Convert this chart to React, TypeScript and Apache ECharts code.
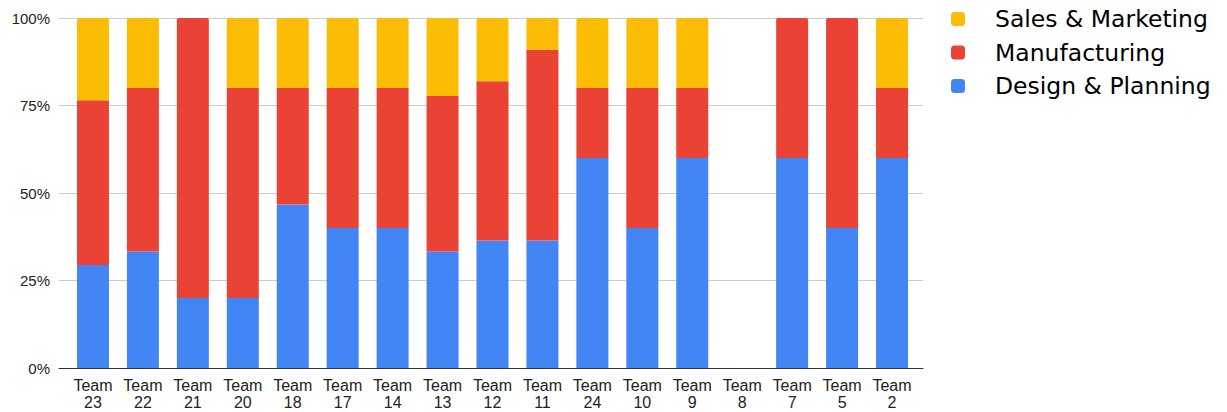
import React, { useEffect, useRef } from "react";
import * as echarts from "echarts";

const teams = ["Team\n23", "Team\n22", "Team\n21", "Team\n20", "Team\n18", "Team\n17", "Team\n14", "Team\n13", "Team\n12", "Team\n11", "Team\n24", "Team\n10", "Team\n9", "Team\n8", "Team\n7", "Team\n5", "Team\n2"];

// Share of each team's members per department, in percent
const designPlanning = [29.4, 33.3, 20, 20, 46.7, 40, 40, 33.3, 36.4, 36.4, 60, 40, 60, 0, 60, 40, 60];
const manufacturing = [47.1, 46.7, 80, 60, 33.3, 40, 40, 44.4, 45.5, 54.5, 20, 40, 20, 0, 40, 60, 20];
const salesMarketing = [23.5, 20, 0, 20, 20, 20, 20, 22.2, 18.2, 9.1, 20, 20, 20, 0, 0, 0, 20];

const yTicks = [0, 25, 50, 75, 100];

const FONT = "'Liberation Sans', Arial, sans-serif";

export default function App() {
  const ref = useRef<HTMLDivElement>(null);

  useEffect(() => {
    document.body.style.margin = "0";
    if (!ref.current) return;
    const chart = echarts.init(ref.current, undefined, { renderer: "svg" });

    // Round the top corners of whichever segment sits on top of each bar
    const mfgData = manufacturing.map((v, i) =>
      salesMarketing[i] === 0 && v > 0
        ? { value: v, itemStyle: { borderRadius: [2, 2, 0, 0] } }
        : v
    );

    const yMin = yTicks[0];
    const yMax = yTicks[yTicks.length - 1];

    chart.setOption({
      animation: false,
      textStyle: { fontFamily: FONT },
      grid: [
        // background grid: gridlines, y labels and the baseline, a little wider than the bars
        { left: 59, right: 304, top: 18, bottom: 44, containLabel: false, outerBoundsMode: "none" },
        // bar area
        { left: 68, right: 310, top: 18, bottom: 44, containLabel: false, outerBoundsMode: "none" },
      ],
      legend: {
        orient: "vertical",
        left: 951,
        top: 7,
        padding: 0,
        itemWidth: 14,
        itemHeight: 14,
        itemGap: 9.5,
        icon: "roundRect",
        data: ["Sales & Marketing", "Manufacturing", "Design & Planning"],
        textStyle: {
          fontSize: 23.5,
          lineHeight: 24,
          color: "#000",
          fontFamily: "'DejaVu Sans', sans-serif",
          padding: [0, 0, 0, 25],
        },
      },
      xAxis: [
        {
          gridIndex: 0,
          type: "value",
          min: 0,
          max: 1,
          axisLine: { show: true, onZero: false, lineStyle: { color: "#333", width: 1 } },
          axisLabel: { show: false },
          axisTick: { show: false },
          splitLine: { show: false },
        },
        {
          gridIndex: 1,
          type: "category",
          data: teams,
          axisTick: { show: false },
          axisLine: { show: false },
          axisLabel: { color: "#222", fontSize: 16, lineHeight: 17, margin: 9, interval: 0, fontFamily: FONT },
        },
      ],
      yAxis: [
        {
          gridIndex: 0,
          type: "value",
          min: yMin,
          max: yMax,
          interval: 25,
          axisLabel: { formatter: "{value}%", color: "#222", fontSize: 15, margin: 9, fontFamily: FONT },
          splitLine: { lineStyle: { color: "#cccccc" } },
          axisLine: { show: false },
          axisTick: { show: false },
        },
        {
          gridIndex: 1,
          type: "value",
          min: yMin,
          max: yMax,
          interval: 25,
          show: false,
          splitLine: { show: false },
        },
      ],
      series: [
        {
          name: "Design & Planning",
          type: "bar",
          stack: "team",
          xAxisIndex: 1,
          yAxisIndex: 1,
          barWidth: 32,
          data: designPlanning,
          itemStyle: { color: "#4285F4" },
        },
        {
          name: "Manufacturing",
          type: "bar",
          stack: "team",
          xAxisIndex: 1,
          yAxisIndex: 1,
          barWidth: 32,
          data: mfgData,
          itemStyle: { color: "#EA4335" },
        },
        {
          name: "Sales & Marketing",
          type: "bar",
          stack: "team",
          xAxisIndex: 1,
          yAxisIndex: 1,
          barWidth: 32,
          data: salesMarketing,
          itemStyle: { color: "#FBBC04", borderRadius: [2, 2, 0, 0] },
        },
      ],
    });

    return () => chart.dispose();
  }, []);

  return <div ref={ref} style={{ width: 1227, height: 412 }} />;
}
